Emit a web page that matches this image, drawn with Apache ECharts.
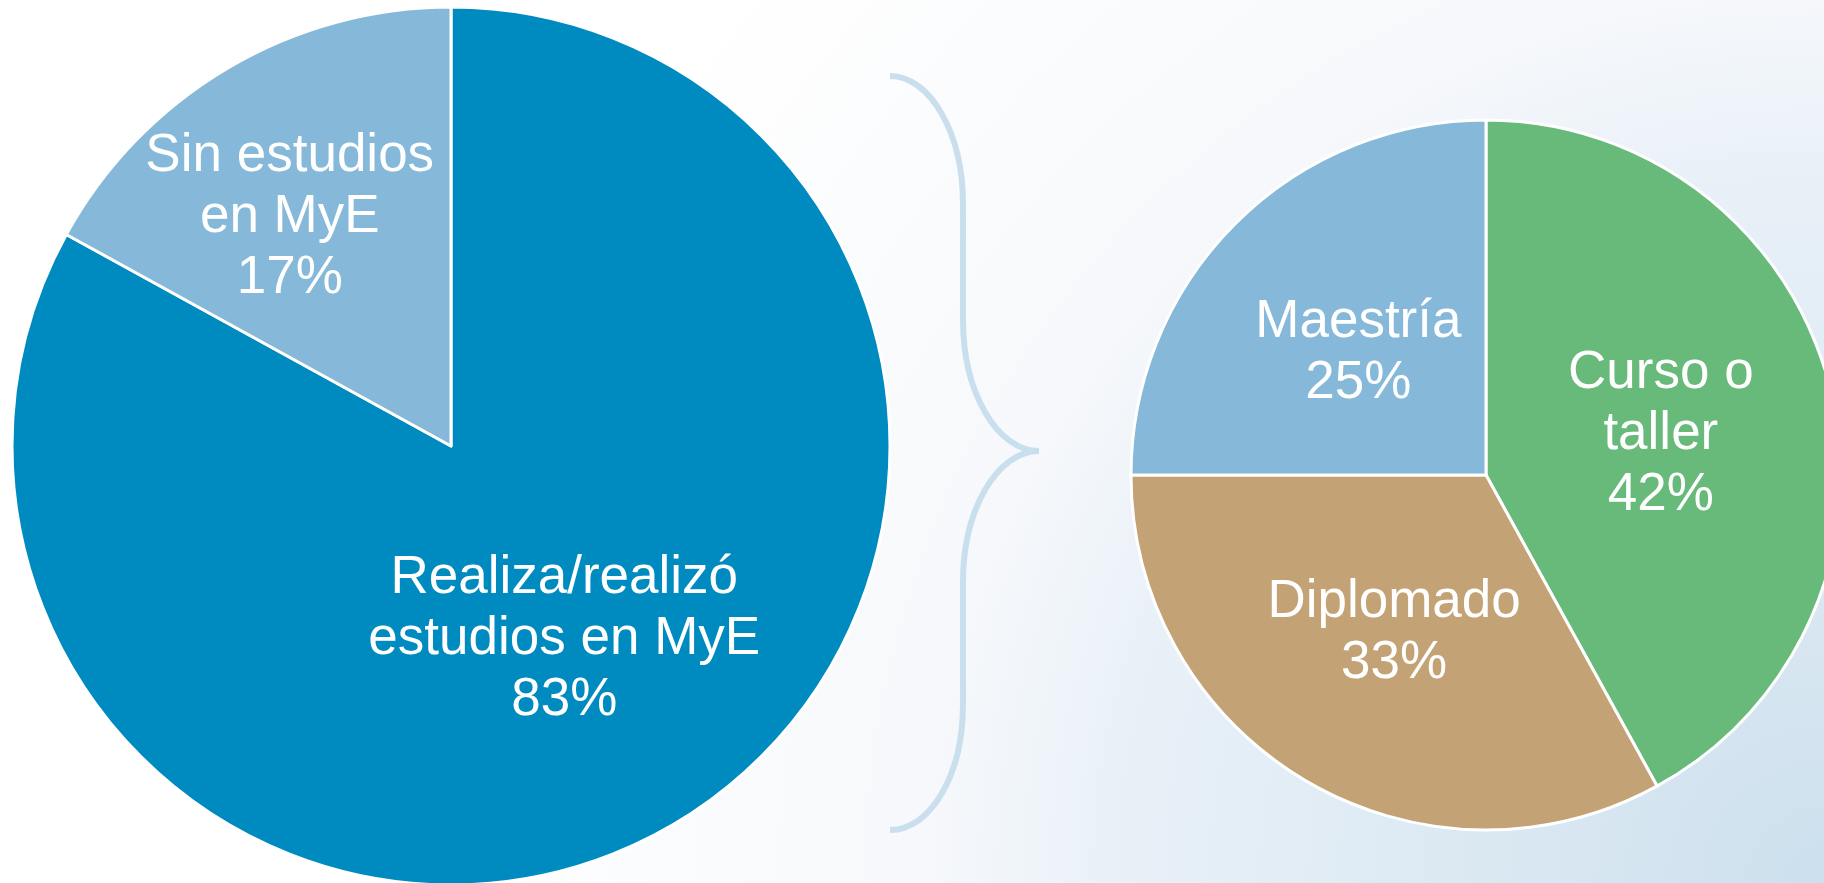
<!DOCTYPE html>
<html>
<head>
<meta charset="utf-8">
<title>Estudios en MyE</title>
<script src="https://cdn.jsdelivr.net/npm/echarts@6/dist/echarts.min.js"></script>
<style>
  html, body { margin: 0; padding: 0; }
  #main { width: 1824px; height: 883px; }
</style>
</head>
<body>
<div id="main"></div>
<script>
// datos: pastel izquierdo
var estudiosNombres = ['Realiza/realizó\nestudios en MyE', 'Sin estudios\nen MyE'];
var estudiosValores = [83, 17];
// datos: pastel derecho (tipo de estudio)
var tipoNombres = ['Curso o\ntaller', 'Diplomado', 'Maestría'];
var tipoValores = [42, 33, 25];

var coloresIzq = ['#008bc0', '#86b9d9'];
var coloresDer = ['#68ba7a', '#c3a375', '#86b9d9'];

// ajuste de etiquetas (como en la diapositiva)
var ajustes = [
  [[0, 2], [-48, -37]],
  [[0, 4], [0, 3], [0, 6]]
];

function armar(nombres, valores, colores){
  return nombres.map(function(n, i){
    return { name: n, value: valores[i], itemStyle: { color: colores[i] } };
  });
}

var chart = echarts.init(document.getElementById('main'));

var etiqueta = {
  show: true
  ,position: 'inside'
  ,formatter: '{b}\n{c}%'
  ,color: '#ffffff'
  ,fontFamily: 'Liberation Sans, Arial, sans-serif'
  ,fontSize: 53
  ,lineHeight: 61
  ,align: 'center'
};

// llave entre los dos pasteles
var trazo = { fill: 'none', stroke: '#c9dfee', lineWidth: 6 };
function curva(x1, y1, c1x, c1y, c2x, c2y, x2, y2){
  return { type: 'bezierCurve', silent: true, style: trazo,
    shape: { x1: x1, y1: y1, cpx1: c1x, cpy1: c1y, cpx2: c2x, cpy2: c2y, x2: x2, y2: y2 } };
}
function recta(x1, y1, x2, y2){
  return { type: 'line', silent: true, style: trazo,
    shape: { x1: x1, y1: y1, x2: x2, y2: y2 } };
}
var llave = [
  curva(890, 76, 930, 76, 963, 133, 963, 204),
  recta(963, 204, 963, 320),
  curva(963, 320, 963, 392, 997, 451, 1039, 451),
  curva(1039, 451, 997, 451, 963, 510, 963, 582),
  recta(963, 582, 963, 704),
  curva(963, 704, 963, 776, 930, 830, 890, 830)
];

var option = {
  // fondo: blanco arriba a la izquierda, celeste abajo a la derecha
  backgroundColor: {
    type: 'radial', x: 1, y: 1, r: 1.6,
    colorStops: [
      { offset: 0, color: '#cce0ed' },
      { offset: 0.17, color: '#d7e6f1' },
      { offset: 0.51, color: '#e9f1f8' },
      { offset: 0.63, color: '#f6f8fb' },
      { offset: 1, color: '#ffffff' }
    ]
  },
  animation: false,
  graphic: llave,
  series: [
    {
      type: 'pie'
      ,center: [451, 446]
      ,radius: [0, 439]
      ,startAngle: 90
      ,clockwise: true
      ,avoidLabelOverlap: false
      ,silent: true
      ,label: etiqueta
      ,labelLine: { show: false }
      ,itemStyle: { borderColor: '#ffffff', borderWidth: 3 }
      ,labelLayout: function(p){
        var o = ajustes[0][p.dataIndex];
        return { dx: o[0], dy: o[1] };
      }
      ,data: armar(estudiosNombres, estudiosValores, coloresIzq)
    },
    {
      type: 'pie'
      ,center: [1486, 475]
      ,radius: [0, 355]
      ,startAngle: 90
      ,clockwise: true
      ,avoidLabelOverlap: false
      ,silent: true
      ,label: etiqueta
      ,labelLine: { show: false }
      ,itemStyle: { borderColor: '#ffffff', borderWidth: 3 }
      ,labelLayout: function(p){
        var o = ajustes[1][p.dataIndex];
        return { dx: o[0], dy: o[1] };
      }
      ,data: armar(tipoNombres, tipoValores, coloresDer)
    }
  ]
};

chart.setOption(option);
</script>
</body>
</html>
